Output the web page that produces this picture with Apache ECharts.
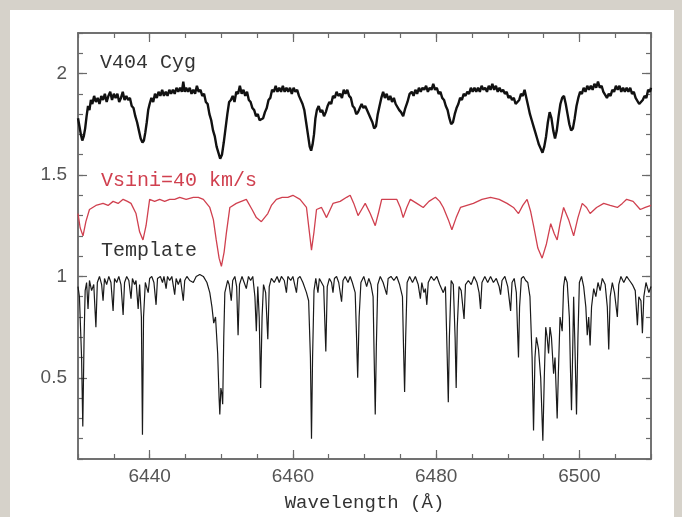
<!DOCTYPE html>
<html>
<head>
<meta charset="utf-8">
<script src="https://cdn.jsdelivr.net/npm/echarts@6/dist/echarts.min.js"></script>
<style>
html,body{margin:0;padding:0;width:682px;height:517px;overflow:hidden;background:#d6d2ca;}
#panel{position:absolute;left:10px;top:10px;width:664px;height:507px;background:#fff;}
#chart{position:absolute;left:0;top:0;width:682px;height:517px;}
</style>
</head>
<body>
<div id="panel"></div>
<div id="chart"></div>
<script>
// Observed spectrum of V404 Cyg (wavelength in Angstrom, normalized flux + offset)
var v404 = [
[6430.0,1.78],[6430.2,1.74],[6430.4,1.70],[6430.6,1.67],[6430.8,1.69],[6431.0,1.73],[6431.2,1.79],[6431.4,1.84],
[6431.6,1.82],[6431.8,1.87],[6432.0,1.85],[6432.25,1.89],[6432.5,1.86],[6432.75,1.88],[6433.0,1.85],[6433.25,1.89],
[6433.5,1.87],[6433.75,1.90],[6434.0,1.86],[6434.25,1.89],[6434.5,1.91],[6434.75,1.87],[6435.0,1.90],[6435.25,1.88],
[6435.5,1.90],[6435.75,1.86],[6436.0,1.88],[6436.25,1.91],[6436.5,1.87],[6436.75,1.89],[6437.0,1.87],[6437.25,1.88],
[6437.5,1.84],[6437.75,1.83],[6438.0,1.79],[6438.25,1.76],[6438.5,1.72],[6438.75,1.68],[6439.0,1.66],[6439.2,1.67],
[6439.4,1.71],[6439.6,1.76],[6439.8,1.82],[6440.0,1.85],[6440.25,1.88],[6440.5,1.86],[6440.75,1.90],[6441.0,1.88],
[6441.25,1.91],[6441.5,1.89],[6441.75,1.92],[6442.0,1.89],[6442.25,1.91],[6442.5,1.89],[6442.75,1.92],[6443.0,1.90],
[6443.25,1.92],[6443.5,1.90],[6443.75,1.93],[6444.0,1.91],[6444.25,1.93],[6444.5,1.91],[6444.7,1.96],[6444.9,1.91],
[6445.1,1.93],[6445.35,1.91],[6445.6,1.93],[6445.85,1.90],[6446.1,1.92],[6446.35,1.90],[6446.6,1.94],[6446.85,1.91],
[6447.1,1.92],[6447.35,1.89],[6447.6,1.90],[6447.85,1.86],[6448.1,1.85],[6448.35,1.80],[6448.6,1.77],[6448.85,1.72],
[6449.1,1.69],[6449.35,1.64],[6449.6,1.61],[6449.85,1.58],[6450.1,1.60],[6450.35,1.66],[6450.6,1.73],[6450.85,1.80],
[6451.1,1.86],[6451.35,1.87],[6451.6,1.89],[6451.85,1.86],[6452.1,1.91],[6452.35,1.90],[6452.6,1.94],[6452.85,1.90],
[6453.1,1.92],[6453.35,1.89],[6453.6,1.91],[6453.85,1.87],[6454.1,1.86],[6454.35,1.83],[6454.6,1.82],[6454.85,1.79],
[6455.1,1.80],[6455.35,1.77],[6455.6,1.77],[6455.85,1.78],[6456.1,1.81],[6456.35,1.83],[6456.6,1.87],[6456.85,1.88],
[6457.1,1.92],[6457.35,1.91],[6457.6,1.94],[6457.85,1.91],[6458.1,1.93],[6458.35,1.91],[6458.6,1.94],[6458.85,1.91],
[6459.1,1.93],[6459.35,1.91],[6459.6,1.93],[6459.85,1.90],[6460.1,1.93],[6460.35,1.91],[6460.6,1.92],[6460.85,1.89],
[6461.1,1.89],[6461.35,1.85],[6461.6,1.82],[6461.85,1.76],[6462.1,1.70],[6462.35,1.64],[6462.55,1.62],[6462.75,1.65],
[6462.95,1.70],[6463.15,1.78],[6463.35,1.82],[6463.6,1.84],[6463.85,1.81],[6464.1,1.82],[6464.35,1.79],[6464.6,1.81],
[6464.85,1.84],[6465.1,1.86],[6465.35,1.85],[6465.6,1.89],[6465.85,1.88],[6466.1,1.91],[6466.35,1.89],[6466.6,1.90],
[6466.85,1.88],[6467.1,1.92],[6467.35,1.90],[6467.6,1.92],[6467.85,1.89],[6468.1,1.88],[6468.35,1.84],[6468.6,1.83],
[6468.85,1.80],[6469.1,1.81],[6469.35,1.83],[6469.6,1.85],[6469.85,1.83],[6470.1,1.84],[6470.35,1.82],[6470.6,1.82],
[6470.85,1.78],[6471.1,1.76],[6471.35,1.73],[6471.6,1.74],[6471.85,1.80],[6472.1,1.84],[6472.35,1.88],[6472.6,1.91],
[6472.85,1.88],[6473.1,1.90],[6473.35,1.87],[6473.6,1.89],[6473.85,1.86],[6474.1,1.88],[6474.35,1.85],[6474.6,1.85],
[6474.85,1.82],[6475.1,1.81],[6475.4,1.79],[6475.7,1.83],[6476.0,1.86],[6476.3,1.90],[6476.6,1.91],[6476.85,1.89],
[6477.1,1.92],[6477.35,1.90],[6477.6,1.93],[6477.85,1.91],[6478.1,1.93],[6478.35,1.92],[6478.6,1.94],[6478.85,1.91],
[6479.1,1.93],[6479.35,1.92],[6479.6,1.95],[6479.85,1.92],[6480.1,1.93],[6480.35,1.90],[6480.6,1.91],[6480.85,1.88],
[6481.1,1.87],[6481.35,1.84],[6481.6,1.82],[6481.85,1.78],[6482.1,1.75],[6482.35,1.76],[6482.6,1.80],[6482.85,1.83],
[6483.1,1.85],[6483.35,1.88],[6483.6,1.87],[6483.85,1.90],[6484.1,1.89],[6484.35,1.91],[6484.6,1.90],[6484.85,1.93],
[6485.1,1.91],[6485.35,1.93],[6485.6,1.91],[6485.85,1.93],[6486.1,1.91],[6486.35,1.94],[6486.6,1.92],[6486.85,1.93],
[6487.1,1.91],[6487.35,1.94],[6487.6,1.92],[6487.85,1.95],[6488.1,1.92],[6488.35,1.94],[6488.6,1.91],[6488.85,1.93],
[6489.1,1.91],[6489.35,1.92],[6489.6,1.90],[6489.85,1.91],[6490.1,1.88],[6490.35,1.89],[6490.6,1.87],[6490.85,1.88],
[6491.1,1.85],[6491.35,1.86],[6491.6,1.87],[6491.85,1.90],[6492.1,1.89],[6492.35,1.92],[6492.6,1.88],[6492.85,1.84],
[6493.1,1.80],[6493.35,1.77],[6493.6,1.74],[6493.85,1.71],[6494.1,1.68],[6494.35,1.65],[6494.6,1.63],[6494.85,1.61],
[6495.1,1.64],[6495.35,1.69],[6495.6,1.76],[6495.85,1.81],[6496.1,1.78],[6496.35,1.72],[6496.6,1.68],[6496.85,1.72],
[6497.1,1.79],[6497.35,1.85],[6497.6,1.88],[6497.85,1.89],[6498.1,1.85],[6498.35,1.80],[6498.6,1.75],[6498.85,1.72],
[6499.1,1.73],[6499.35,1.78],[6499.6,1.84],[6499.85,1.88],[6500.1,1.91],[6500.35,1.90],[6500.6,1.93],[6500.85,1.91],
[6501.1,1.94],[6501.35,1.92],[6501.6,1.94],[6501.85,1.92],[6502.1,1.95],[6502.35,1.93],[6502.6,1.96],[6502.85,1.93],
[6503.1,1.94],[6503.35,1.91],[6503.6,1.91],[6503.85,1.88],[6504.1,1.90],[6504.35,1.89],[6504.6,1.92],[6504.85,1.91],
[6505.1,1.94],[6505.35,1.92],[6505.6,1.94],[6505.85,1.91],[6506.1,1.93],[6506.35,1.91],[6506.6,1.93],[6506.85,1.91],
[6507.1,1.93],[6507.35,1.90],[6507.6,1.91],[6507.85,1.88],[6508.1,1.88],[6508.35,1.85],[6508.6,1.86],[6508.85,1.87],
[6509.1,1.89],[6509.35,1.88],[6509.6,1.92],[6509.85,1.91],[6510.0,1.93]
];

// Template convolved with Vsini = 40 km/s (offset)
var vsini = [
[6430.0,1.31],[6430.3,1.24],[6430.7,1.20],[6431.1,1.27],[6431.6,1.33],[6432.5,1.35],[6433.5,1.36],[6434.2,1.35],
[6434.9,1.37],[6435.6,1.36],[6436.3,1.38],[6436.9,1.37],[6437.4,1.36],[6438.1,1.31],[6438.6,1.22],[6439.07,1.18],
[6439.5,1.25],[6440.0,1.38],[6440.7,1.37],[6441.4,1.38],[6442.1,1.37],[6442.8,1.38],[6443.5,1.38],[6444.2,1.39],
[6445.1,1.38],[6446.1,1.39],[6446.8,1.39],[6447.5,1.38],[6448.4,1.34],[6448.9,1.28],[6449.3,1.18],[6449.7,1.09],
[6450.02,1.05],[6450.4,1.12],[6450.7,1.21],[6451.2,1.34],[6452.1,1.36],[6452.8,1.37],[6453.5,1.38],[6454.3,1.33],
[6454.9,1.29],[6455.6,1.27],[6456.5,1.31],[6457.0,1.35],[6457.7,1.38],[6458.5,1.39],[6459.3,1.39],[6460.0,1.40],
[6461.0,1.38],[6461.9,1.34],[6462.3,1.22],[6462.6,1.13],[6462.95,1.22],[6463.3,1.33],[6464.0,1.34],[6464.7,1.29],
[6465.6,1.36],[6466.6,1.37],[6467.5,1.39],[6468.0,1.40],[6468.5,1.36],[6469.1,1.30],[6469.6,1.33],[6470.1,1.36],
[6470.8,1.31],[6471.5,1.25],[6472.0,1.32],[6472.4,1.38],[6473.5,1.38],[6474.5,1.38],[6475.0,1.34],[6475.4,1.29],
[6475.9,1.34],[6476.4,1.38],[6477.3,1.36],[6478.2,1.34],[6479.0,1.37],[6479.9,1.39],[6480.5,1.37],[6481.0,1.34],
[6481.7,1.28],[6482.2,1.23],[6482.8,1.29],[6483.4,1.34],[6484.3,1.35],[6485.2,1.36],[6486.4,1.38],[6487.6,1.39],
[6488.8,1.38],[6489.9,1.36],[6490.8,1.34],[6491.5,1.31],[6492.1,1.35],[6492.7,1.38],[6493.2,1.32],[6493.6,1.25],
[6494.2,1.14],[6494.8,1.09],[6495.4,1.16],[6496.0,1.26],[6496.5,1.21],[6496.9,1.18],[6497.3,1.26],[6497.8,1.34],
[6498.5,1.28],[6499.2,1.20],[6499.8,1.29],[6500.4,1.36],[6501.0,1.34],[6501.5,1.31],[6502.4,1.34],[6503.4,1.36],
[6504.3,1.35],[6505.3,1.34],[6506.0,1.36],[6506.6,1.38],[6507.5,1.37],[6508.5,1.33],[6509.2,1.34],[6510.0,1.35]
];

// Template spectrum (unbroadened)
var template = [
[6430.0,0.95],[6430.2,0.90],[6430.5,0.60],[6430.67,0.26],[6430.85,0.70],[6431.0,0.93],[6431.2,0.97],[6431.4,0.84],
[6431.6,0.98],[6431.9,0.93],[6432.2,0.96],[6432.5,0.75],[6432.7,0.97],[6433.0,1.0],[6433.3,0.96],[6433.5,0.88],
[6433.7,0.99],[6434.0,0.96],[6434.3,1.0],[6434.6,0.97],[6434.9,0.83],[6435.1,0.99],[6435.4,0.97],[6435.7,1.0],
[6436.0,0.96],[6436.3,0.81],[6436.5,0.97],[6436.8,1.0],[6437.1,0.98],[6437.4,0.89],[6437.6,0.99],[6437.9,0.96],
[6438.1,0.98],[6438.4,0.84],[6438.6,0.96],[6438.85,0.80],[6439.0,0.22],[6439.15,0.80],[6439.4,0.97],[6439.8,0.92],
[6440.0,0.99],[6440.3,1.0],[6440.6,0.97],[6440.9,0.86],[6441.1,0.99],[6441.5,1.0],[6441.8,0.97],[6442.0,1.0],
[6442.3,0.94],[6442.5,1.0],[6442.8,0.98],[6443.1,1.0],[6443.5,0.91],[6443.7,0.99],[6444.0,0.96],[6444.3,0.99],
[6444.7,0.88],[6444.9,0.98],[6445.2,1.0],[6445.6,0.98],[6446.1,0.97],[6446.5,1.0],[6447.0,1.01],[6447.5,1.0],
[6448.0,0.97],[6448.4,0.92],[6448.7,0.85],[6448.95,0.77],[6449.2,0.80],[6449.5,0.62],[6449.7,0.40],[6449.8,0.32],
[6449.95,0.45],[6450.1,0.42],[6450.2,0.37],[6450.35,0.70],[6450.5,0.92],[6450.7,0.92],[6450.9,0.98],[6451.1,0.96],
[6451.4,0.88],[6451.6,0.98],[6451.9,1.0],[6452.15,0.95],[6452.35,0.71],[6452.55,0.96],[6452.9,1.0],[6453.2,0.97],
[6453.5,0.94],[6453.8,1.0],[6454.1,0.98],[6454.4,1.0],[6454.7,0.90],[6454.9,0.73],[6455.1,0.95],[6455.3,0.80],
[6455.5,0.45],[6455.7,0.80],[6455.9,0.96],[6456.2,0.92],[6456.5,0.69],[6456.7,0.95],[6457.0,0.99],[6457.4,0.97],
[6457.8,1.0],[6458.1,0.97],[6458.4,1.0],[6458.8,0.98],[6459.1,0.92],[6459.3,1.0],[6459.7,0.98],[6460.0,1.0],
[6460.5,0.92],[6460.7,0.99],[6461.0,1.0],[6461.4,0.97],[6461.9,0.92],[6462.2,0.88],[6462.45,0.60],[6462.6,0.20],
[6462.75,0.60],[6462.95,0.93],[6463.2,0.99],[6463.5,0.92],[6463.7,0.99],[6464.0,0.97],[6464.3,0.95],[6464.6,0.63],
[6464.8,0.95],[6465.1,0.99],[6465.4,0.97],[6465.6,0.92],[6465.8,0.99],[6466.1,1.0],[6466.4,0.97],[6466.8,0.875],
[6467.0,0.98],[6467.3,1.0],[6467.7,0.97],[6468.0,1.0],[6468.3,0.97],[6468.7,0.92],[6468.85,0.75],[6469.05,0.50],
[6469.25,0.80],[6469.5,0.97],[6469.9,1.0],[6470.3,0.95],[6470.6,0.99],[6470.9,0.96],[6471.2,0.90],[6471.35,0.60],
[6471.5,0.32],[6471.65,0.65],[6471.85,0.96],[6472.2,1.0],[6472.6,0.97],[6473.1,0.91],[6473.3,0.99],[6473.7,1.0],
[6474.1,0.98],[6474.5,1.0],[6474.9,0.96],[6475.3,0.90],[6475.45,0.65],[6475.6,0.43],[6475.75,0.70],[6475.95,0.97],
[6476.3,1.0],[6476.7,0.97],[6477.1,1.0],[6477.5,0.96],[6477.8,0.89],[6478.0,0.97],[6478.3,0.92],[6478.5,0.94],
[6478.7,0.86],[6478.9,0.97],[6479.3,1.0],[6479.7,0.98],[6480.1,1.0],[6480.5,0.96],[6481.0,0.92],[6481.3,0.95],
[6481.55,0.60],[6481.7,0.38],[6481.85,0.70],[6482.1,0.98],[6482.4,0.96],[6482.65,0.70],[6482.8,0.45],[6482.95,0.75],
[6483.2,0.95],[6483.5,0.93],[6483.9,0.79],[6484.1,0.96],[6484.5,0.98],[6484.9,0.96],[6485.3,1.0],[6485.7,0.97],
[6486.0,0.92],[6486.2,0.84],[6486.4,0.97],[6486.8,1.0],[6487.2,0.97],[6487.6,1.0],[6488.0,0.97],[6488.4,0.99],
[6488.8,0.95],[6489.0,0.91],[6489.2,0.98],[6489.6,1.0],[6490.0,0.95],[6490.4,0.83],[6490.6,0.97],[6490.9,0.99],
[6491.2,0.92],[6491.4,0.70],[6491.5,0.60],[6491.65,0.85],[6491.9,0.99],[6492.2,1.0],[6492.5,0.98],[6492.8,0.97],
[6493.1,0.90],[6493.4,0.60],[6493.6,0.24],[6493.8,0.60],[6494.0,0.70],[6494.3,0.64],[6494.6,0.50],[6494.9,0.19],
[6495.1,0.50],[6495.3,0.75],[6495.5,0.70],[6495.7,0.62],[6495.9,0.75],[6496.1,0.70],[6496.4,0.52],[6496.6,0.60],
[6496.75,0.45],[6496.9,0.30],[6497.05,0.50],[6497.3,0.80],[6497.6,0.73],[6497.8,0.95],[6498.0,1.0],[6498.3,0.97],
[6498.6,0.80],[6498.75,0.55],[6498.9,0.34],[6499.05,0.60],[6499.2,0.90],[6499.35,0.70],[6499.6,0.32],[6499.8,0.70],
[6500.0,0.97],[6500.3,1.0],[6500.6,0.95],[6500.9,0.85],[6501.1,0.71],[6501.3,0.80],[6501.5,0.66],[6501.7,0.85],
[6502.0,0.94],[6502.3,0.90],[6502.6,0.97],[6502.9,0.93],[6503.2,0.99],[6503.6,0.96],[6503.9,0.85],[6504.1,0.64],
[6504.3,0.90],[6504.6,0.97],[6504.9,0.92],[6505.3,0.80],[6505.5,0.96],[6505.8,1.0],[6506.2,0.97],[6506.6,1.0],
[6507.0,0.98],[6507.4,0.96],[6507.8,0.93],[6508.1,0.76],[6508.3,0.90],[6508.6,0.88],[6508.8,0.72],[6509.0,0.90],
[6509.3,0.97],[6509.7,0.92],[6510.0,0.95]
];

var xLabelTicks = [6440, 6460, 6480, 6500];
var yLabelTicks = [0.5, 1, 1.5, 2];
var annotations = ['V404 Cyg', 'Vsini=40 km/s', 'Template'];
var xTitle = 'Wavelength (\u00C5)';

var X_MIN = 6430, X_MAX = 6510, Y_MIN = 0.1, Y_MAX = 2.2;
var axisCol = '#6a6a6a';
var labelFont = 'Liberation Sans, Arial, sans-serif';
var textFont = 'Liberation Mono, DejaVu Sans Mono, monospace';

function xAx(pos, major, show) {
  var a = {
    type: 'value', position: pos, min: X_MIN, max: X_MAX,
    axisLine: {show: true, onZero: false, lineStyle: {color: axisCol, width: 1.5}},
    splitLine: {show: false},
    axisTick: {show: true, inside: true, length: major ? 9 : 5, lineStyle: {color: axisCol, width: 1.2}},
    axisLabel: {show: false}
  };
  if (major) {
    a.axisTick.customValues = xLabelTicks;
    a.axisLabel = {show: show, customValues: xLabelTicks, color: '#555', fontSize: 19, fontFamily: labelFont, margin: 8,
                   formatter: function (v) { return String(v); }};
    if (show) {
      a.name = xTitle; a.nameLocation = 'middle'; a.nameGap = 34;
      a.nameTextStyle = {color: '#333', fontSize: 19, fontFamily: textFont};
    }
  } else {
    a.interval = 5;
  }
  return a;
}
function yAx(pos, major, show) {
  var a = {
    type: 'value', position: pos, min: Y_MIN, max: Y_MAX,
    axisLine: {show: true, onZero: false, lineStyle: {color: axisCol, width: 1.5}},
    splitLine: {show: false},
    axisTick: {show: true, inside: true, length: major ? 9 : 5, lineStyle: {color: axisCol, width: 1.2}},
    axisLabel: {show: false}
  };
  if (major) {
    a.axisTick.customValues = yLabelTicks;
    a.axisLabel = {show: show, customValues: yLabelTicks, color: '#555', fontSize: 19, fontFamily: labelFont, margin: 11,
                   formatter: function (v) { return String(v); }};
  } else {
    a.interval = 0.1;
  }
  return a;
}

var chart = echarts.init(document.getElementById('chart'), null, {renderer: 'canvas'});
var grid = {left: 78, right: 31, top: 33, bottom: 54};
chart.setOption({
  animation: false,
  backgroundColor: 'transparent',
  grid: grid,
  xAxis: [xAx('bottom', true, true), xAx('bottom', false), xAx('top', true, false), xAx('top', false)],
  yAxis: [yAx('left', true, true), yAx('left', false), yAx('right', true, false), yAx('right', false)],
  series: [
    {type: 'line', name: 'V404 Cyg', data: v404, showSymbol: false, xAxisIndex: 0, yAxisIndex: 0,
     lineStyle: {color: '#111', width: 2.4}, silent: true},
    {type: 'line', name: 'Vsini', data: vsini, showSymbol: false, xAxisIndex: 0, yAxisIndex: 0,
     lineStyle: {color: '#d0404f', width: 1.3}, silent: true},
    {type: 'line', name: 'Template', data: template, showSymbol: false, xAxisIndex: 0, yAxisIndex: 0,
     lineStyle: {color: '#1a1a1a', width: 1.2}, silent: true}
  ],
  graphic: [
    {type: 'text', left: 100, top: 53, style: {text: annotations[0], fill: '#333', font: '20px ' + textFont}},
    {type: 'text', left: 101, top: 171, style: {text: annotations[1], fill: '#d0404f', font: '20px ' + textFont}},
    {type: 'text', left: 101, top: 241, style: {text: annotations[2], fill: '#333', font: '20px ' + textFont}}
  ]
});
</script>
</body>
</html>
